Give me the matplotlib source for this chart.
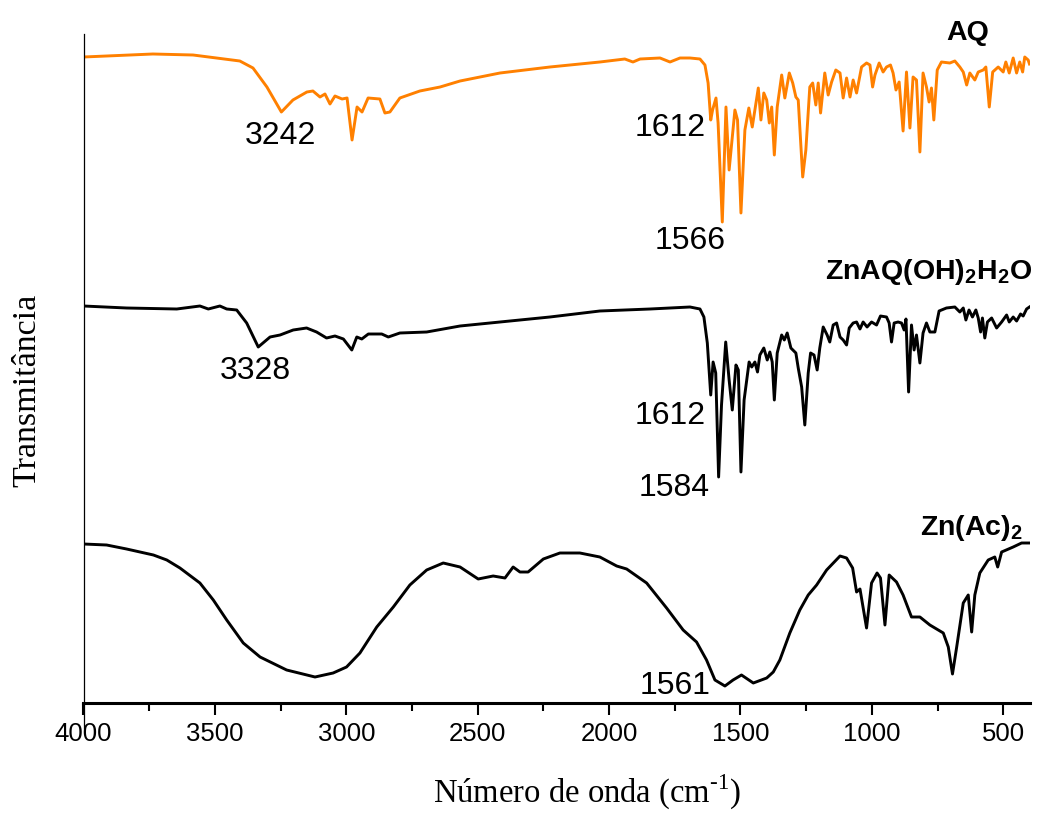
import matplotlib
matplotlib.use("Agg")
import matplotlib.pyplot as plt
from matplotlib.ticker import MultipleLocator

plt.rcParams['font.family'] = ['Liberation Sans', 'DejaVu Sans']
plt.rcParams['mathtext.fontset'] = 'custom'
plt.rcParams['mathtext.rm'] = 'Liberation Serif'
plt.rcParams['mathtext.bf'] = 'Liberation Sans:bold'

# wavenumber (cm-1) and transmittance (arbitrary, offset)
aq_wn = [4000, 3736, 3583, 3405, 3355, 3302, 3247, 3203, 3150, 3127, 3100, 3081,
         3062, 3043, 3016, 2997, 2978, 2959, 2940, 2917, 2872, 2853, 2834, 2796,
         2720, 2643, 2567, 2415, 2225, 2035, 1940, 1909, 1882, 1806, 1768, 1730,
         1692, 1654, 1635, 1623, 1613, 1606, 1593, 1585, 1569, 1555, 1543, 1521,
         1511, 1498, 1483, 1468, 1455, 1432, 1422, 1411, 1400, 1390, 1381, 1371,
         1360, 1343, 1331, 1314, 1301, 1289, 1280, 1263, 1251, 1236, 1225, 1213,
         1204, 1195, 1179, 1166, 1153, 1137, 1121, 1109, 1096, 1083, 1071, 1058,
         1039, 1020, 1007, 997, 988, 972, 957, 944, 929, 919, 908, 896, 881, 868,
         855, 843, 830, 817, 805, 792, 782, 773, 764, 751, 735, 703, 684, 665,
         652, 639, 627, 608, 595, 576, 566, 553, 540, 519, 500, 490, 477, 462,
         449, 437, 426, 418, 405, 400]
aq_t = [646, 649, 648, 642, 635, 616, 591, 603, 611, 612, 606, 609,
        599, 607, 604, 605, 563, 596, 591, 605, 604, 590, 591, 605,
        612, 616, 622, 630, 636, 641, 644, 641, 644, 645, 641, 645,
        645, 644, 638, 620, 583, 593, 605, 580, 481, 596, 533, 593,
        583, 490, 573, 595, 576, 615, 583, 610, 603, 580, 596, 548,
        596, 628, 605, 630, 620, 606, 603, 526, 553, 616, 620, 598,
        620, 590, 630, 608, 621, 633, 630, 605, 625, 606, 623, 610,
        636, 640, 638, 616, 628, 640, 631, 636, 638, 630, 613, 621, 572, 631,
        575, 626, 623, 551, 630, 616, 601, 615, 583, 633, 641, 640, 642, 636,
        631, 618, 630, 623, 631, 633, 636, 596, 631, 636, 631, 641, 630, 645,
        630, 641, 631, 646, 643, 639]

znaq_wn = [4000, 3836, 3645, 3557, 3525, 3481, 3455, 3417, 3379, 3335, 3290, 3252,
           3202, 3151, 3113, 3075, 3043, 3011, 2979, 2960, 2941, 2916, 2865, 2840,
           2796, 2694, 2567, 2415, 2225, 2035, 1844, 1692, 1654, 1639, 1626, 1613,
           1604, 1594, 1583, 1572, 1556, 1543, 1531, 1517, 1508, 1498, 1486, 1467,
           1457, 1445, 1435, 1426, 1411, 1398, 1388, 1379, 1371, 1360, 1343, 1333,
           1322, 1308, 1289, 1280, 1267, 1255, 1242, 1233, 1220, 1208, 1198, 1185,
           1170, 1160, 1147, 1134, 1121, 1109, 1096, 1086, 1071, 1058, 1045, 1033,
           1018, 1001, 982, 967, 944, 934, 925, 915, 900, 887, 877, 870, 860, 849,
           839, 830, 817, 805, 792, 779, 760, 744, 716, 684, 665, 652, 642, 630,
           617, 604, 595, 586, 579, 570, 560, 544, 525, 506, 487, 477, 462, 449,
           434, 424, 411, 400]
znaq_t = [397, 395, 394, 397, 394, 397, 394, 393, 380, 356, 366, 368,
          373, 375, 371, 365, 367, 364, 353, 366, 364, 369, 369, 366,
          370, 371, 377, 381, 386, 392, 394, 396, 394, 386, 360, 308,
          341, 330, 226, 298, 361, 323, 293, 338, 333, 231, 303, 341,
          336, 341, 331, 348, 355, 343, 351, 341, 303, 350, 368, 363,
          370, 355, 350, 335, 316, 278, 330, 350, 348, 333, 355, 376,
          368, 361, 378, 380, 366, 363, 358, 375, 380, 381, 374, 381,
          376, 381, 378, 387, 386, 380, 361, 380, 381, 380, 373, 384, 311, 378,
          353, 368, 340, 370, 380, 371, 371, 392, 395, 396, 391, 395, 383, 393,
          386, 393, 385, 371, 385, 365, 381, 385, 375, 381, 388, 381, 386, 382,
          389, 387, 394, 396]

znac_wn = [4000, 3912, 3836, 3734, 3683, 3633, 3557, 3506, 3455, 3392, 3328, 3227,
           3119, 3050, 2999, 2948, 2884, 2821, 2758, 2694, 2631, 2567, 2498, 2441,
           2396, 2365, 2339, 2308, 2250, 2187, 2111, 2035, 1971, 1933, 1857, 1781,
           1718, 1667, 1629, 1597, 1559, 1528, 1496, 1451, 1400, 1375, 1350, 1312,
           1274, 1242, 1210, 1172, 1121, 1096, 1073, 1058, 1045, 1020, 1001, 980,
           967, 950, 934, 906, 881, 849, 817, 779, 728, 709, 693, 677, 652, 633,
           620, 608, 589, 557, 532, 521, 506, 462, 430, 400]
znac_t = [159, 158, 154, 148, 143, 135, 120, 103, 83, 60, 46, 33,
          26, 30, 36, 50, 76, 96, 118, 133, 140, 136, 124, 127,
          125, 136, 131, 131, 144, 150, 150, 146, 137, 134, 120, 95,
          73, 61, 43, 23, 17, 23, 28, 20, 25, 31, 43, 70,
          93, 108, 118, 133, 147, 145, 135, 111, 114, 75, 120, 130,
          125, 78, 128, 121, 108, 86, 86, 78, 70, 56, 29, 56, 100, 108,
          71, 108, 130, 143, 146, 136, 151, 156, 160, 160]

series = [(aq_wn, aq_t, '#ff8000'), (znaq_wn, znaq_t, 'black'), (znac_wn, znac_t, 'black')]

# peak labels: text, wavenumber, y position
peak_labels = [('3242', 3250, 567), ('1612', 1768, 575), ('1566', 1692, 462),
               ('3328', 3347, 332), ('1612', 1768, 287), ('1584', 1753, 215),
               ('1561', 1750, 17)]
names = [('AQ', 635, 663), (r'ZnAQ(OH)$_\mathbf{2}$H$_\mathbf{2}$O', 782, 424),
         (r'Zn(Ac)$_\mathbf{2}$', 622, 168)]

fig = plt.figure(figsize=(10.4, 8.13), dpi=100)
ax = fig.add_axes([83.5 / 1040, 110 / 813, 946.5 / 1040, 669 / 813])

for wn, t, c in series:
    ax.plot(wn, t, color=c, lw=2.1, solid_joinstyle='round')

for s, x, y in peak_labels:
    ax.text(x, y, s, fontsize=23, ha='center', va='center')
for s, x, y in names:
    ax.text(x, y, s, fontsize=20.5, fontweight='bold', ha='center', va='baseline')

ax.set_xlim(4000, 398)
ax.set_ylim(0, 669)
ax.set_yticks([])
ax.xaxis.set_major_locator(MultipleLocator(500))
ax.xaxis.set_minor_locator(MultipleLocator(250))
ax.tick_params(axis='x', which='major', length=8.5, width=1.5, labelsize=18.5, pad=5)
ax.tick_params(axis='x', which='minor', length=5.5, width=1.5)

for side in ['top', 'right']:
    ax.spines[side].set_visible(False)
ax.spines['bottom'].set_linewidth(2.2)
ax.spines['left'].set_linewidth(0.9)
ax.spines['left'].set_bounds(-25, 669)

ax.set_xlabel(r'Número de onda (cm$^{\text{-}1}$)', family='Liberation Serif', fontsize=23.5)
ax.xaxis.set_label_coords(0.532, -0.104)
ax.set_ylabel('Transmitância', family='Liberation Serif', fontsize=24.5)
ax.yaxis.set_label_coords(-0.043, 0.468)

fig.savefig('out.png', dpi=100)
